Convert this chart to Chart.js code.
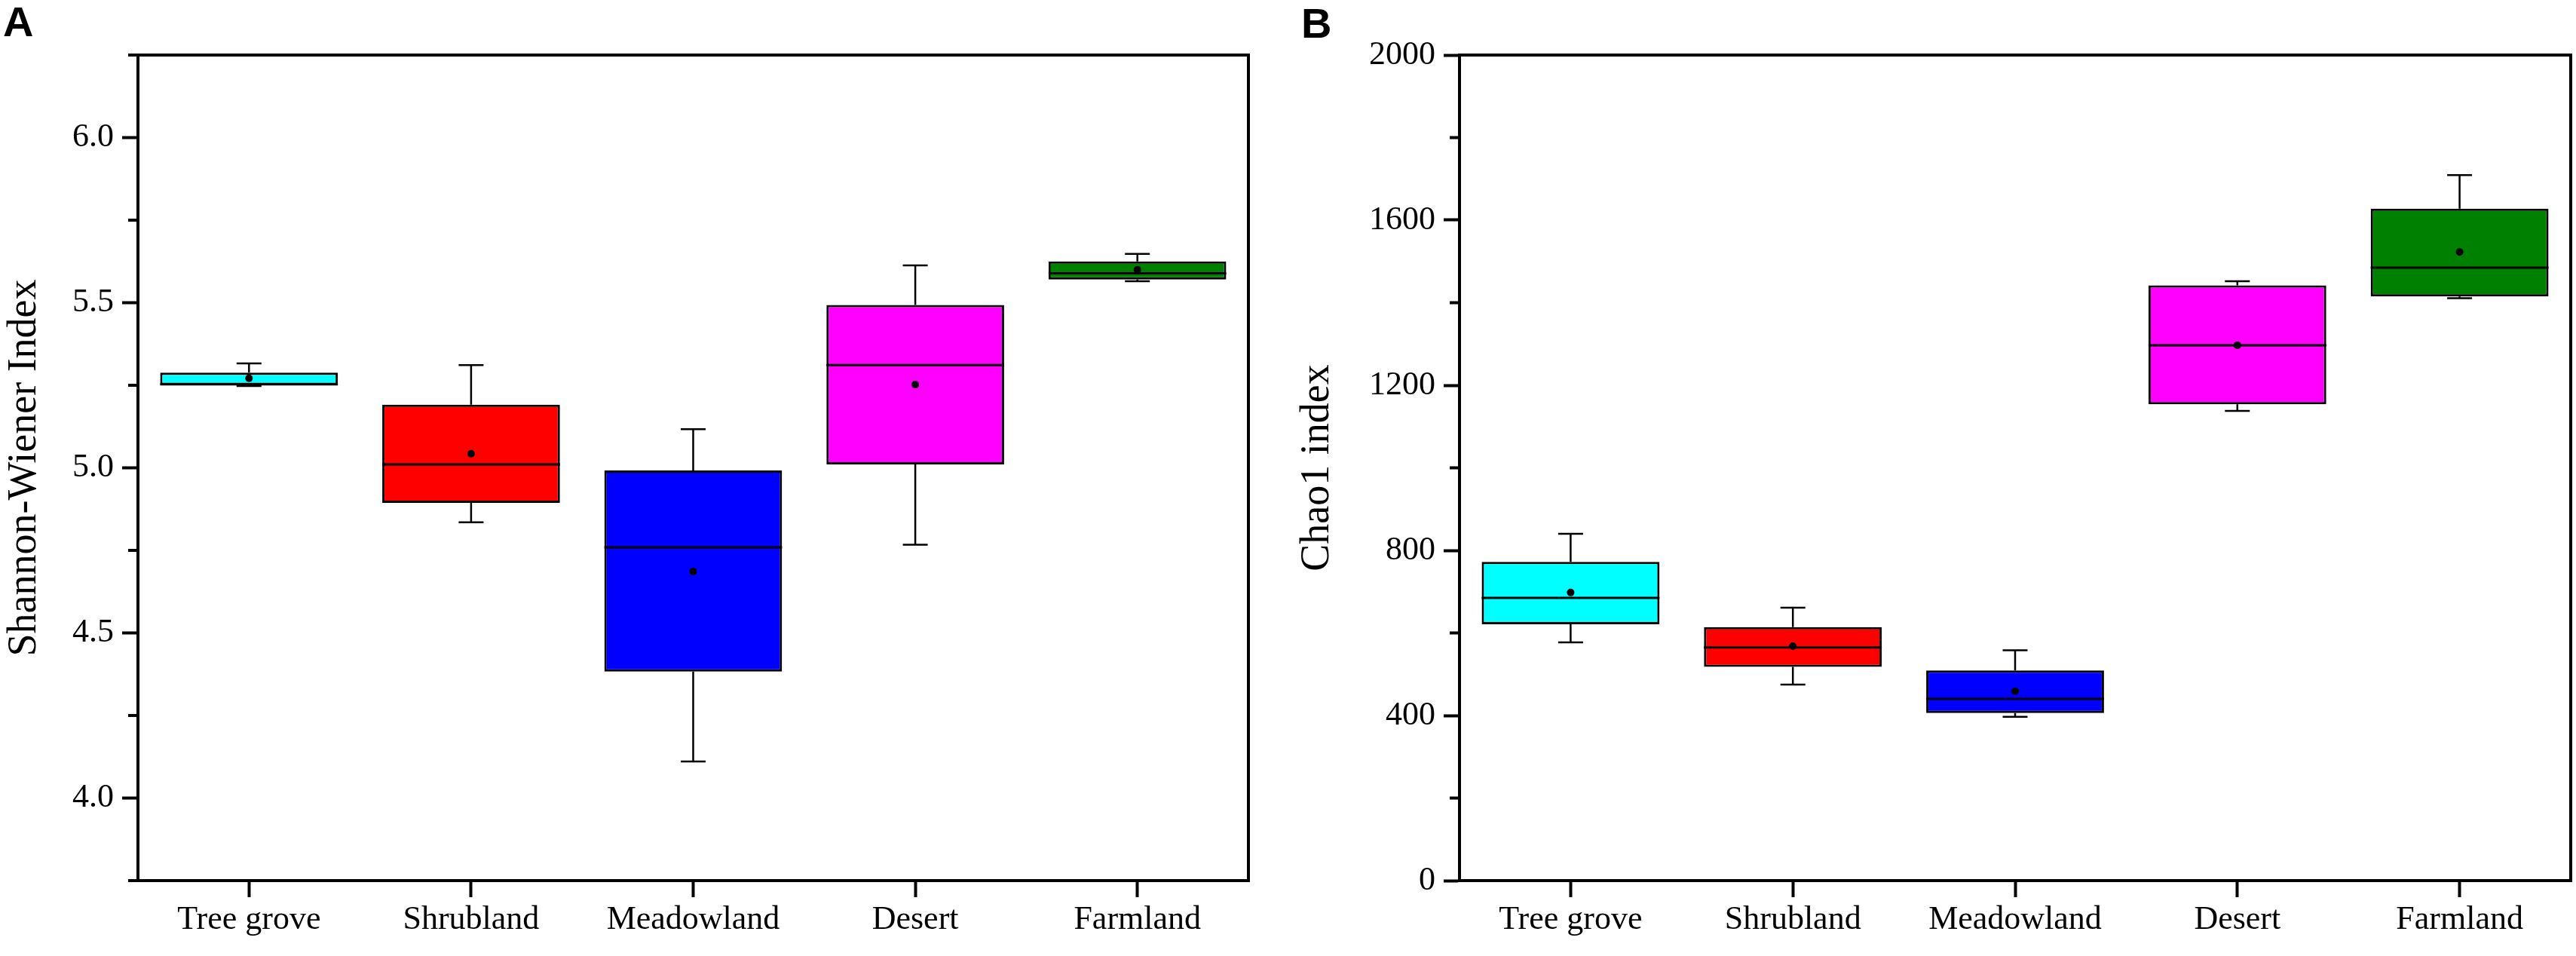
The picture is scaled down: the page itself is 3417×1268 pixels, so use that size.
<!DOCTYPE html>
<html>
<head>
<meta charset="utf-8">
<script src="https://cdn.jsdelivr.net/npm/chart.js@4.4.1/dist/chart.umd.min.js"></script>
<style>
  html, body { margin: 0; padding: 0; background: #fff; }
  body { width: 3417px; height: 1268px; position: relative; overflow: hidden; }
  .panel { position: absolute; top: 0; height: 1268px; }
  .letter { position: absolute; font-family: 'Liberation Sans', Arial, sans-serif; font-weight: bold; font-size: 56px; line-height: 1; color: #000; }
</style>
</head>
<body>
<div class="panel" style="left:0;width:1700px"><canvas id="chartA" width="1700" height="1268"></canvas></div>
<div class="panel" style="left:1700px;width:1717px"><canvas id="chartB" width="1717" height="1268"></canvas></div>
<div class="letter" style="left:4px;top:1px">A</div>
<div class="letter" style="left:1726px;top:3px">B</div>
<script>
const categories = ['Tree grove', 'Shrubland', 'Meadowland', 'Desert', 'Farmland'];
const boxColors = ['#00ffff', '#ff0000', '#0000ff', '#ff00ff', '#008000'];

// panel A - Shannon-Wiener
const shannonMin    = [5.248, 4.835, 4.111, 4.767, 5.565];
const shannonQ1     = [5.251, 4.894, 4.383, 5.010, 5.570];
const shannonMedian = [5.253, 5.010, 4.759, 5.311, 5.589];
const shannonQ3     = [5.288, 5.191, 4.992, 5.493, 5.625];
const shannonMax    = [5.316, 5.311, 5.117, 5.613, 5.648];
const shannonMean   = [5.271, 5.043, 4.686, 5.252, 5.600];

// panel B - Chao1
const chaoMin    = [577, 475, 397, 1138, 1411];
const chaoQ1     = [621, 518, 406, 1154, 1415];
const chaoMedian = [685, 565, 440, 1297, 1485];
const chaoQ3     = [772, 614, 509, 1442, 1628];
const chaoMax    = [840, 661, 558, 1452, 1709];
const chaoMean   = [698, 568, 459, 1297, 1523];

const serif = "'Liberation Serif', 'Times New Roman', serif";
Chart.defaults.font.family = serif;
Chart.defaults.color = '#000';

// whiskers, median, mean and the frame round the plot
function boxMarks(stats) {
    return {
        id: 'boxMarks',
        afterDatasetsDraw(chart) {
            const ctx = chart.ctx;
            const x = chart.scales.x, y = chart.scales.y;
            const bars = chart.getDatasetMeta(0).data;
            ctx.save();
            ctx.strokeStyle = '#000';
            ctx.fillStyle = '#000';
            stats.min.forEach(function (v, i) {
                const cx = x.getPixelForValue(i);
                const half = bars[i].width / 2;
                const cap = 16.5;
                const yMin = y.getPixelForValue(stats.min[i]);
                const yMax = y.getPixelForValue(stats.max[i]);
                const yQ1 = y.getPixelForValue(stats.q1[i]);
                const yQ3 = y.getPixelForValue(stats.q3[i]);
                ctx.lineWidth = 2.5;
                ctx.beginPath();
                ctx.moveTo(cx, yQ3); ctx.lineTo(cx, yMax);
                ctx.moveTo(cx - cap, yMax); ctx.lineTo(cx + cap, yMax);
                ctx.moveTo(cx, yQ1); ctx.lineTo(cx, yMin);
                ctx.moveTo(cx - cap, yMin); ctx.lineTo(cx + cap, yMin);
                ctx.stroke();
                ctx.lineWidth = 3;
                const yMed = y.getPixelForValue(stats.median[i]);
                ctx.beginPath();
                ctx.moveTo(cx - half, yMed); ctx.lineTo(cx + half, yMed);
                ctx.stroke();
                ctx.beginPath();
                ctx.arc(cx, y.getPixelForValue(stats.mean[i]), 5, 0, Math.PI * 2);
                ctx.fill();
            });
            const a = chart.chartArea;
            ctx.lineWidth = 4;
            ctx.strokeRect(a.left, a.top, a.right - a.left, a.bottom - a.top);
            // minor ticks (unlabelled)
            ctx.beginPath();
            y.ticks.forEach(function (t) {
                if (t.label === '') {
                    const py = y.getPixelForValue(t.value);
                    ctx.moveTo(a.left - 13, py); ctx.lineTo(a.left, py);
                }
            });
            ctx.stroke();
            ctx.restore();
        }
    };
}

function makeChart(id, cfg) {
    const bars = cfg.q1.map(function (v, i) { return [v, cfg.q3[i]]; });
    return new Chart(document.getElementById(id), {
        type: 'bar',
        data: {
            labels: categories,
            datasets: [{
                data: bars,
                backgroundColor: boxColors,
                borderColor: '#000',
                borderWidth: 3,
                borderSkipped: false,
                barPercentage: 0.8,
                categoryPercentage: 1.0
            }]
        },
        options: {
            responsive: false,
            animation: false,
            devicePixelRatio: 1,
            layout: { padding: { left: 0, right: cfg.padRight, top: 73, bottom: 0 } },
            plugins: { legend: { display: false }, tooltip: { enabled: false } },
            scales: {
                x: {
                    afterFit: function (s) { s.height = 100; },
                    grid: { display: true, drawOnChartArea: false, drawTicks: true, offset: false,
                            tickLength: 22, tickWidth: 4, tickColor: '#000' },
                    border: { display: true, width: 4, color: '#000' },
                    ticks: { font: { family: serif, size: 44 }, color: '#000', padding: 4, maxRotation: 0 }
                },
                y: {
                    min: cfg.min,
                    max: cfg.max,
                    afterFit: function (s) { s.width = cfg.axisWidth; },
                    grid: { display: true, drawOnChartArea: false, drawTicks: true,
                            tickLength: 21, tickWidth: 4,
                            tickColor: function (c) { return c.tick && c.tick.label === '' ? 'rgba(0,0,0,0)' : '#000'; } },
                    border: { display: true, width: 4, color: '#000' },
                    ticks: { stepSize: cfg.step, font: { family: serif, size: 44 }, color: '#000', padding: 11,
                             callback: cfg.label },
                    title: { display: true, text: cfg.title, font: { family: serif, size: 54 }, color: '#000',
                             padding: { top: cfg.titlePad, bottom: 0 } }
                }
            }
        },
        plugins: [boxMarks({ min: cfg.lo, q1: cfg.q1, median: cfg.median, q3: cfg.q3, max: cfg.hi, mean: cfg.mean })]
    });
}

makeChart('chartA', {
    q1: shannonQ1, q3: shannonQ3, lo: shannonMin, hi: shannonMax, median: shannonMedian, mean: shannonMean,
    min: 3.75, max: 6.25, step: 0.25, axisWidth: 183, padRight: 44, titlePad: 0,
    title: 'Shannon-Wiener Index',
    label: function (v) { return Math.round(v * 100) % 50 === 0 ? v.toFixed(1) : ''; }
});

makeChart('chartB', {
    q1: chaoQ1, q3: chaoQ3, lo: chaoMin, hi: chaoMax, median: chaoMedian, mean: chaoMean,
    min: 0, max: 2000, step: 200, axisWidth: 236, padRight: 7, titlePad: 15,
    title: 'Chao1 index',
    label: function (v) { return v % 400 === 0 ? String(v) : ''; }
});
</script>
</body>
</html>
